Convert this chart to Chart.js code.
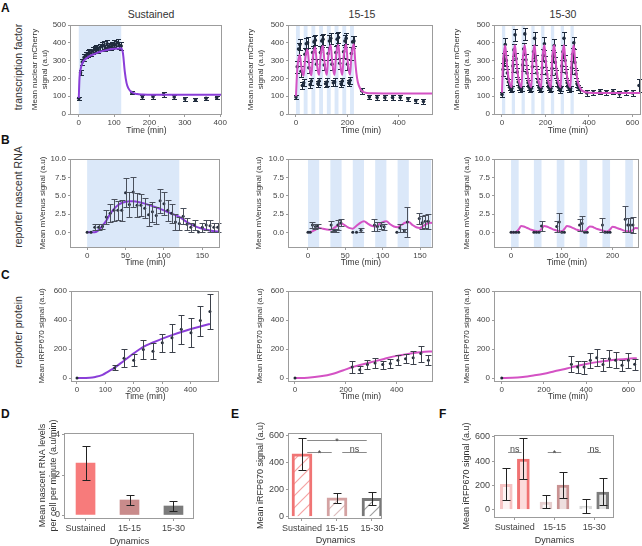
<!DOCTYPE html>
<html><head><meta charset="utf-8">
<script src="https://cdn.jsdelivr.net/npm/chart.js@4/dist/chart.umd.min.js"></script>
<style>
body{margin:0;width:642px;height:546px;position:relative;background:#fff;overflow:hidden;font-family:"Liberation Sans",Arial,sans-serif;color:#333}
canvas{position:absolute}
.lt{position:absolute;font-weight:bold;font-size:12px;color:#111}
.tt{position:absolute;font-size:10.5px;color:#333;transform:translate(-50%,-50%);white-space:nowrap}
.rl{position:absolute;font-size:10.5px;color:#333;transform:translate(-50%,-50%) rotate(-90deg);white-space:nowrap}
</style></head><body>
<div class="lt" style="left:1px;top:1px">A</div>
<div class="lt" style="left:1px;top:133px">B</div>
<div class="lt" style="left:1px;top:268px">C</div>
<div class="lt" style="left:1px;top:407px">D</div>
<div class="lt" style="left:231px;top:407px">E</div>
<div class="lt" style="left:439px;top:407px">F</div>
<div class="tt" style="left:151px;top:14px">Sustained</div>
<div class="tt" style="left:362px;top:14px">15-15</div>
<div class="tt" style="left:563px;top:14px">15-30</div>
<div class="rl" style="left:18px;top:67px">transcription factor</div>
<div class="rl" style="left:18px;top:197px">reporter nascent RNA</div>
<div class="rl" style="left:18px;top:332px">reporter protein</div>
<canvas id="a1"></canvas><canvas id="a2"></canvas><canvas id="a3"></canvas>
<canvas id="b1"></canvas><canvas id="b2"></canvas><canvas id="b3"></canvas>
<canvas id="c1"></canvas><canvas id="c2"></canvas><canvas id="c3"></canvas>
<canvas id="d"></canvas><canvas id="e"></canvas><canvas id="f"></canvas>
<script>
// ---------------- DATA ----------------
// Row A: transcription factor (mean nuclear mCherry)
const a1T = [0,5,10,15,20,25,30,35,40,45,50,55,60,65,70,75,80,85,90,95,100,105,110,115,120,150,180,210,240,270,300,330,360,390];
const a1V = [88,232,292,318,330,338,345,342,355,362,368,360,375,382,386,372,394,380,376,385,396,388,402,386,382,120,96,97,110,95,85,80,88,92];
const a1E = [8,15,18,18,18,20,20,18,20,20,20,18,20,20,22,18,22,20,18,20,22,20,22,20,20,10,10,10,15,10,10,8,8,10];
const a1FitT = [0,2,5,10,20,30,45,60,80,100,120,125,130,135,140,150,165,180,250,405];
const a1FitV = [90,200,250,285,310,325,338,350,360,366,370,340,240,175,145,122,112,110,108,108];
const a1Bands = [[0,120]];

const a2T = [0,5,10,15,20,25,30,35,40,45,50,55,60,65,70,75,80,85,90,95,100,105,110,115,120,125,130,135,140,145,150,155,160,165,170,175,180,185,190,195,200,205,210,215,220,225,255,285,315,345,375,405,435,465,495];
const a2V = [95,265,365,390,240,160,175,335,395,400,260,165,185,345,405,415,280,170,185,345,410,420,275,170,180,340,410,425,280,175,180,345,420,430,285,170,185,350,410,425,280,175,190,340,405,410,130,95,92,92,92,92,85,75,70];
const a2E = [12,35,35,30,30,18,20,35,30,30,30,18,20,35,35,30,30,18,20,35,35,30,30,18,20,35,35,30,30,18,20,35,35,30,30,18,20,35,35,30,30,18,20,35,35,30,15,12,12,12,12,12,12,12,12];
const a2FitT = [0,5,10,15,20,25,30,35,40,45,50,55,60,65,70,75,80,85,90,95,100,105,110,115,120,125,130,135,140,145,150,155,160,165,170,175,180,185,190,195,200,205,210,215,220,225,230,235,240,250,260,275,300,400,535];
const a2FitV = [100,250,310,332,275,232,215,300,345,362,295,240,218,310,358,375,300,243,220,315,365,382,305,245,220,318,368,386,307,246,220,318,370,388,308,246,220,320,370,390,308,247,221,320,372,392,300,225,180,140,125,118,116,115,115];
const a2Bands = [[0,15],[30,45],[60,75],[90,105],[120,135],[150,165],[180,195],[210,225]];

const a3T = [0,5,10,15,20,25,30,35,40,45,50,55,60,65,70,75,80,85,90,95,100,105,110,115,120,125,130,135,140,145,150,155,160,165,170,175,180,185,190,195,200,205,210,215,220,225,230,235,240,245,250,255,260,265,270,275,280,285,290,295,300,305,310,315,320,325,330,335,340,345,350,360,390,420,450,480,510,540,570,600,630];
const a3V = [110,250,310,390,300,230,180,150,140,145,270,360,445,310,235,180,150,140,145,275,365,450,305,230,175,150,138,145,265,350,425,300,230,180,150,140,145,260,330,395,295,225,175,150,140,145,255,325,385,290,225,175,150,135,145,270,350,425,300,230,175,150,140,145,260,335,400,290,225,170,148,135,118,120,125,122,125,112,122,118,160];
const a3E = [15,35,35,35,30,25,18,15,15,15,35,35,35,30,25,18,15,15,15,35,35,35,30,25,18,15,15,15,35,35,35,30,25,18,15,15,15,35,35,35,30,25,18,15,15,15,35,35,35,30,25,18,15,15,15,35,35,35,30,25,18,15,15,15,35,35,35,30,25,18,15,15,15,15,15,15,15,15,15,15,35];
const a3FitT = [0,5,10,15,20,25,30,35,40,45,50,55,60,65,70,75,80,85,90,95,100,105,110,115,120,125,130,135,140,145,150,155,160,165,170,175,180,185,190,195,200,205,210,215,220,225,230,235,240,245,250,255,260,265,270,275,280,285,290,295,300,305,310,315,320,325,330,335,340,345,350,355,360,370,385,400,500,640];
const a3FitV = [120,290,355,385,320,255,205,175,158,150,295,358,386,320,255,205,175,158,150,295,358,386,320,255,205,175,158,150,295,358,386,320,255,205,175,158,150,295,358,386,320,255,205,175,158,150,295,358,386,320,255,205,175,158,150,295,358,386,320,255,205,175,158,150,295,358,386,320,255,205,175,158,145,130,122,120,118,118];
const a3Bands = [[0,15],[45,60],[90,105],[135,150],[180,195],[225,240],[270,285],[315,330]];

// Row B: reporter nascent RNA (mean mVenus)
const b1T = [0,5,10,15,20,25,30,35,40,45,50,55,60,65,70,75,80,85,90,95,100,105,110,115,120,125,130,135,140,145,150,155,160,165,170];
const b1V = [0,0,0.7,0.7,0.8,2.1,2.6,3.0,3.0,3.0,5.4,3.8,5.5,3.7,3.7,3.3,2.4,2.8,2.3,4.3,3.9,3.0,2.6,1.4,1.2,2.2,1.1,0.7,1.0,0.05,0.7,1.0,0.9,0.7,0.7];
const b1E = [0,0,0.4,0.4,0.4,0.9,1.2,1.5,1.3,1.4,2.0,1.7,2.0,1.6,1.5,1.4,1.5,1.4,1.2,1.6,1.6,1.4,1.3,1.1,0.9,1.1,0.8,0.6,0.7,0,0.6,0.7,0.8,0.6,0.6];
const b1FitT = [0,10,15,20,25,30,35,40,45,50,55,60,70,80,90,100,110,120,130,140,150,160,170,175];
const b1FitV = [0,0,0.3,0.9,1.6,2.5,3.2,3.7,4.0,4.15,4.25,4.25,4.05,3.75,3.4,3.0,2.55,2.1,1.4,0.85,0.5,0.25,0.12,0.08];
const b1Bands = [[0,120]];

const b2T = [0,3,6,10,13,31,34,37,40,44,60,65,71,89,93,98,102,119,123,129,133,149,153,157,161];
const b2V = [0,0,1.0,0.8,0.85,1.0,0.1,0.3,1.0,1.3,0,0,0.3,1.0,0.8,0.9,0.75,0,0.6,0.2,1.4,1.9,1.3,1.5,1.5];
const b2E = [0,0,0.4,0.4,0.3,0.5,0.1,0.2,0.7,0.5,0,0,0.3,0.8,0.6,0.5,0.4,0,0.6,0.2,2.0,0.7,0.9,0.9,1.0];
const b2FitT = [0,5,10,15,20,25,30,35,40,45,50,55,60,65,70,75,80,85,90,95,100,105,110,115,120,125,130,135,140,145,150,155,160,165,168];
const b2FitV = [0,0.1,0.35,0.6,0.5,0.4,0.35,0.6,0.95,1.2,0.9,0.6,0.5,0.9,1.3,1.5,1.2,0.9,0.8,1.1,1.4,1.5,1.1,0.8,0.7,1.0,1.3,1.4,1.0,0.7,0.6,0.9,1.2,1.3,1.2];
const b2Bands = [[0,15],[30,45],[60,75],[90,105],[120,135],[150,165]];

const b3T = [0,5,10,15,45,50,55,60,90,95,100,105,135,140,145,150,180,185,190,195,225,230,235,240];
const b3V = [0,0,0,0,0,0,0,0.85,0.8,1.4,0,0,1.0,1.2,0,0,1.0,0,0,0,1.8,1.0,1.0,1.0];
const b3E = [0,0,0,0,0,0,0,0.7,0.8,1.3,0,0,0.8,1.0,0,0,0.9,0,0,0,1.8,1.0,1.0,1.1];
const b3FitT = [0,5,10,15,20,25,30,35,40,45,50,55,60,65,70,75,80,85,90,95,100,105,110,115,120,125,130,135,140,145,150,155,160,165,170,175,180,185,190,195,200,205,210,215,220,225,230,235,240,245,250,255];
const b3FitV = [0,0,0.05,0.4,0.85,0.8,0.65,0.5,0.35,0.25,0.15,0.15,0.45,0.85,0.8,0.65,0.5,0.35,0.25,0.15,0.15,0.45,0.85,0.8,0.65,0.5,0.35,0.25,0.15,0.15,0.45,0.8,0.75,0.6,0.45,0.35,0.25,0.15,0.1,0.4,0.75,0.7,0.55,0.45,0.3,0.2,0.15,0.1,0.35,0.6,0.55,0.5];
const b3Bands = [[0,15],[45,60],[90,105],[135,150],[180,195],[225,240]];

// Row C: reporter protein (mean iRFP670)
const c1T = [0,133,166,200,234,268,301,335,368,402,435,469];
const c1V = [0,70,137,123,197,185,243,278,336,313,396,459];
const c1E = [0,17,62,43,63,55,63,98,100,100,104,120];
const c1FitT = [0,45,65,90,110,133,166,200,234,268,301,335,368,402,435,469];
const c1FitV = [0,2,8,22,45,72,120,170,215,245,272,296,318,338,356,373];

const c2T = [0,225,255,285,315,345,375,405,435,465,495,525];
const c2V = [0,76,58,93,104,93,100,123,134,141,169,123];
const c2E = [0,44,25,30,32,28,32,35,32,45,55,35];
const c2FitT = [0,50,100,150,200,220,260,300,350,400,450,500,540];
const c2FitV = [0,3,12,30,60,73,92,110,132,153,168,180,184];

const c3T = [0,330,360,390,420,450,480,510,540,570,600,630];
const c3V = [0,95,76,76,123,141,93,134,123,88,123,95];
const c3E = [0,55,43,45,50,60,45,60,55,40,50,40];
const c3FitT = [0,50,100,150,200,250,300,330,360,400,450,500,550,600,640];
const c3FitV = [0,2,8,18,30,47,63,74,85,97,110,120,128,134,137];

// Ticks
const aYTicks = [0,100,200,300,400,500];
const a1XTicks = [0,100,200,300,400];
const a2XTicks = [0,200,400];
const a3XTicks = [0,200,400,600];
const bYTicks = [0,2.5,5,7.5,10];
const b1XTicks = [0,50,100,150];
const b2XTicks = [0,50,100,150];
const b3XTicks = [0,100,200];
const cYTicks = [0,200,400,600];
const c1XTicks = [0,100,200,300,400];
const c2XTicks = [0,200,400];
const c3XTicks = [0,200,400,600];

// Bottom row: bars
const dynamics = ['Sustained','15-15','15-30'];
const dVals = [2.6,0.75,0.45];
const dErr = [0.85,0.25,0.27];
const dYTicks = [0,2,4];
const eVals = [465,140,135];
const eErr = [121,37,45];
const eYTicks = [0,200,400,600];
const eSigFrom = [0,0,1], eSigTo = [2,1,2], eSigLevel = [570,476,476], eSigText = ['*','*','ns'];
const fLight = [212,65,32];
const fLightErr = [131,54,55];
const fDark = [420,205,148];
const fDarkErr = [167,107,110];
const fYTicks = [0,200,400,600];
const fSigFrom = [0,1,2], fSigTo = [0,1,2], fSigLevel = [474,474,474], fSigText = ['ns','*','ns'];

// ---------------- RENDER ----------------
const FONT = '"Liberation Sans", Arial, sans-serif';
Chart.defaults.font.family = FONT;
Chart.defaults.color = '#3a3a3a';
const SPINE = '#9c9c9c';
const PADT = 30;

const bandsPlugin = { id:'bands',
  beforeDatasetsDraw(chart, args, opts){
    if(!opts || !opts.list) return;
    const {ctx, chartArea:a, scales:{x}} = chart;
    ctx.save(); ctx.fillStyle = '#dbe8f9';
    opts.list.forEach(([s,e])=>{
      const x1 = Math.max(a.left, x.getPixelForValue(s)), x2 = Math.min(a.right, x.getPixelForValue(e));
      if(x2>x1) ctx.fillRect(x1, a.top, x2-x1, a.bottom-a.top);
    });
    ctx.restore();
  }};
const errPlugin = { id:'errbars',
  afterDatasetDraw(chart, args){
    const ds = chart.data.datasets[args.index];
    if(!ds.errors) return;
    const y = chart.scales.y, ctx = chart.ctx;
    ctx.save(); ctx.strokeStyle = ds.errorColor || '#222'; ctx.lineWidth = 1;
    const cw = (ds.capW||4)/2;
    args.meta.data.forEach((el,i)=>{
      const e = ds.errors[i]; if(!e) return;
      const v = ds.data[i].y;
      const px = Math.round(el.x)+0.5;
      const y1 = Math.round(y.getPixelForValue(v-e))+0.5, y2 = Math.round(y.getPixelForValue(v+e))+0.5;
      ctx.beginPath();
      ctx.moveTo(px,y1); ctx.lineTo(px,y2);
      ctx.moveTo(px-cw,y1); ctx.lineTo(px+cw,y1);
      ctx.moveTo(px-cw,y2); ctx.lineTo(px+cw,y2);
      ctx.stroke();
    });
    ctx.restore();
  }};
const framePlugin = { id:'frame',
  afterDraw(chart){
    const a = chart.chartArea, ctx = chart.ctx;
    ctx.save(); ctx.strokeStyle = SPINE; ctx.lineWidth = 1;
    const l = Math.round(a.left)-0.5, t = Math.round(a.top)+0.5, r = Math.round(a.right)-0.5, b = Math.round(a.bottom)+0.5;
    ctx.strokeRect(l, t, r-l, b-t);
    ctx.restore();
  }};
const sigPlugin = { id:'sig',
  afterDraw(chart, args, opts){
    if(!opts || !opts.from) return;
    const {ctx, scales:{x,y}} = chart;
    ctx.save(); ctx.strokeStyle = '#8a8a8a'; ctx.fillStyle = '#444'; ctx.lineWidth = 1;
    ctx.font = '9px ' + FONT; ctx.textAlign = 'center'; ctx.textBaseline = 'alphabetic';
    opts.from.forEach((a,i)=>{
      const b = opts.to[i];
      const x1 = x.getPixelForValue(a===b ? a-0.17 : a+0.15), x2 = x.getPixelForValue(a===b ? b+0.17 : b-0.15);
      const py = Math.round(y.getPixelForValue(opts.level[i]))+0.5;
      ctx.beginPath(); ctx.moveTo(x1,py); ctx.lineTo(x2,py); ctx.stroke();
      const txt = opts.text[i];
      ctx.fillText(txt, (x1+x2)/2, txt==='*' ? py+3 : py-1);
    });
    ctx.restore();
  }};
Chart.register(bandsPlugin, errPlugin, framePlugin, sigPlugin);

function place(id, box, yW, xH, padT, padR){
  const c = document.getElementById(id);
  const w = (box.R-box.L)+yW+padR, h = (box.B-box.T)+padT+xH;
  c.width = w; c.height = h;
  c.style.left = (box.L-yW)+'px'; c.style.top = (box.T-padT)+'px';
  c.style.width = w+'px'; c.style.height = h+'px';
  return c;
}
const pairs = (xs, ys) => xs.map((x,i)=>({x, y:ys[i]}));

function axisX(o, fs){
  return { type:'linear', min:o.xMin, max:o.xMax, offset:false,
    afterFit: s=>{ s.height = o.xH; },
    afterBuildTicks: s=>{ s.ticks = o.xTicks.map(v=>({value:v})); },
    ticks:{ font:{size:fs}, padding:o.xPad||1, maxRotation:0, autoSkip:false, color:'#444', callback:o.xLabel || (v=>v) },
    grid:{ display:true, drawOnChartArea:false, tickLength:3, color:SPINE, offset:false },
    border:{ display:false },
    title:{ display:true, text:o.xTitle, font:{size:o.xTitleSize||8.5}, padding:0, color:'#333' } };
}
function axisY(o, fs){
  return { type:'linear', min:o.yMin, max:o.yMax,
    afterFit: s=>{ s.width = o.yW; },
    afterBuildTicks: s=>{ s.ticks = o.yTicks.map(v=>({value:v})); },
    ticks:{ font:{size:fs}, padding:2, autoSkip:false, color:'#444', callback: o.yFmt ? (v=>v.toFixed(1)) : (v=>v) },
    grid:{ display:true, drawOnChartArea:false, tickLength:3, color:SPINE },
    border:{ display:false },
    title:{ display:true, text:o.yTitle, font:{size:o.yTitleSize||8}, padding:0, color:'#333' } };
}
function lineChart(id, box, o){
  const c = place(id, box, o.yW, o.xH, PADT, 14);
  const fit = { type:'line', data:pairs(o.fitT,o.fitV), borderColor:o.fitColor, borderWidth:2, pointRadius:0,
                cubicInterpolationMode:'monotone', fill:false, order: o.curveTop ? 0 : 2 };
  const pts = { type:'scatter', data:pairs(o.t,o.v), errors:o.e, errorColor:o.errColor, capW:o.capW,
                pointRadius:o.pr, pointBackgroundColor:o.ptColor, pointBorderWidth:0, showLine:false, order:1 };
  return new Chart(c, { type:'scatter', data:{ datasets:[fit, pts] },
    options:{ responsive:false, animation:false, devicePixelRatio:1, events:[],
      layout:{ padding:{ top:PADT, right:14, left:0, bottom:0 } },
      plugins:{ legend:{display:false}, tooltip:{enabled:false}, bands:{ list:o.bands } },
      scales:{ x:axisX(o,8), y:axisY(o,8) } } });
}

const PURPLE = '#8a3ed8', MAGENTA = '#d452c4';
const timeTitle = 'Time (min)';
const mcherry = ['Mean nuclear mCherry','signal (a.u)'];
const aStyle = { ptColor:'#1f2b3d', errColor:'#1f2b3d', capW:5, pr:1.8, curveTop:true, yMin:0, yMax:500, yTicks:aYTicks, yTitle:mcherry, xTitle:timeTitle, xH:22 };
lineChart('a1', {L:71,T:25,R:222,B:114}, Object.assign({}, aStyle, { t:a1T, v:a1V, e:a1E, fitT:a1FitT, fitV:a1FitV, fitColor:PURPLE, bands:a1Bands, xMin:-22, xMax:405, xTicks:a1XTicks, yW:41 }));
lineChart('a2', {L:289,T:25,R:433,B:114}, Object.assign({}, aStyle, { t:a2T, v:a2V, e:a2E, fitT:a2FitT, fitV:a2FitV, fitColor:MAGENTA, bands:a2Bands, xMin:-27, xMax:532, xTicks:a2XTicks, yW:43 }));
lineChart('a3', {L:495,T:25,R:641,B:114}, Object.assign({}, aStyle, { t:a3T, v:a3V, e:a3E, fitT:a3FitT, fitV:a3FitV, fitColor:MAGENTA, bands:a3Bands, xMin:-32, xMax:639, xTicks:a3XTicks, yW:43 }));

const bStyle = { ptColor:'#262e3c', errColor:'#4a505c', capW:6, pr:1.5, curveTop:false, yMin:-2, yMax:10, yTicks:bYTicks, yFmt:true, yTitle:'Mean mVenus signal (a.u)', xTitle:timeTitle, xH:21 };
lineChart('b1', {L:71,T:159,R:220,B:247}, Object.assign({}, bStyle, { t:b1T, v:b1V, e:b1E, fitT:b1FitT, fitV:b1FitV, fitColor:PURPLE, bands:b1Bands, xMin:-21, xMax:173, xTicks:b1XTicks, yW:33 }));
lineChart('b2', {L:289,T:159,R:433,B:247}, Object.assign({}, bStyle, { t:b2T, v:b2V, e:b2E, fitT:b2FitT, fitV:b2FitV, fitColor:MAGENTA, bands:b2Bands, xMin:-25.4, xMax:167.4, xTicks:b2XTicks, yW:35 }));
lineChart('b3', {L:495,T:159,R:639,B:247}, Object.assign({}, bStyle, { t:b3T, v:b3V, e:b3E, fitT:b3FitT, fitV:b3FitV, fitColor:MAGENTA, bands:b3Bands, xMin:-31.6, xMax:252, xTicks:b3XTicks, yW:33 }));

const cStyle = { ptColor:'#222a36', errColor:'#3c414b', capW:6, pr:1.5, curveTop:false, yMin:-20, yMax:600, yTicks:cYTicks, yTitle:'Mean iRFP670 signal (a.u)', xTitle:timeTitle, xH:21 };
lineChart('c1', {L:72,T:291,R:219,B:381}, Object.assign({}, cStyle, { t:c1T, v:c1V, e:c1E, fitT:c1FitT, fitV:c1FitV, fitColor:PURPLE, bands:null, xMin:-17.6, xMax:501, xTicks:c1XTicks, yW:35 }));
lineChart('c2', {L:289,T:291,R:433,B:381}, Object.assign({}, cStyle, { t:c2T, v:c2V, e:c2E, fitT:c2FitT, fitV:c2FitV, fitColor:MAGENTA, bands:null, xMin:-23.6, xMax:543, xTicks:c2XTicks, yW:34 }));
lineChart('c3', {L:495,T:291,R:641,B:381}, Object.assign({}, cStyle, { t:c3T, v:c3V, e:c3E, fitT:c3FitT, fitV:c3FitV, fitColor:MAGENTA, bands:null, xMin:-32, xMax:660, xTicks:c3XTicks, yW:33 }));

// bars
function hatch(color){
  const p = document.createElement('canvas'); p.width = 12; p.height = 12;
  const g = p.getContext('2d'); g.fillStyle = '#fff'; g.fillRect(0,0,12,12);
  g.strokeStyle = color; g.lineWidth = 1.2; g.beginPath();
  g.moveTo(0,12); g.lineTo(12,0); g.moveTo(-6,6); g.lineTo(6,-6); g.moveTo(6,18); g.lineTo(18,6); g.stroke();
  return g.createPattern(p, 'repeat');
}
function barChart(id, box, o){
  const c = place(id, box, o.yW, o.xH, PADT, 8);
  return new Chart(c, { type:'bar',
    data:{ datasets: o.sets.map(s=>Object.assign({ data:pairs([0,1,2], s.v), errors:s.e, errorColor:'#222', capW:8 }, s.style)) },
    options:{ responsive:false, animation:false, devicePixelRatio:1, events:[],
      layout:{ padding:{ top:PADT, right:8, left:0, bottom:0 } },
      plugins:{ legend:{display:false}, tooltip:{enabled:false}, sig:o.sig || {} },
      scales:{ x:axisX(o,9), y:axisY(o,9) } } });
}
const xLab = v => dynamics[v];
const barBase = { xTicks:[0,1,2], xLabel:xLab, xTitle:'Dynamics', xTitleSize:9, yTitleSize:9, xPad:2 };
barChart('d', {L:65,T:433,R:194,B:518}, Object.assign({}, barBase, { yW:28, xH:29, xMin:-0.467, xMax:2.467, yMin:-0.15, yMax:4.1, yTicks:dYTicks,
  yTitle:['Mean nascent RNA levels','per cell per minute (a.u/min)'],
  sets:[{ v:dVals, e:dErr, style:{ backgroundColor:['#f77b7b','#c98b8b','#7b7b7b'], borderWidth:0, barThickness:19 } }] }));
barChart('e', {L:289,T:433,R:382,B:518}, Object.assign({}, barBase, { yW:34, xH:28, xMin:-0.371, xMax:2.286, yMin:-10, yMax:620, yTicks:eYTicks,
  yTitle:'Mean iRFP670 signal (a.u)',
  sig:{ from:eSigFrom, to:eSigTo, level:eSigLevel, text:eSigText },
  sets:[{ v:eVals, e:eErr, style:{ backgroundColor:[hatch('#f5a3a3'),hatch('#dcbcbc'),hatch('#a0a0a0')], borderColor:['#f07474','#d4a2a2','#787878'], borderWidth:3, barThickness:20 } }] }));
barChart('f', {L:495,T:435,R:614,B:517}, Object.assign({}, barBase, { yW:34, xH:29, xMin:-0.5, xMax:2.5, yMin:-60, yMax:615, yTicks:fYTicks,
  yTitle:'Mean iRFP670 signal (a.u)',
  sig:{ from:fSigFrom, to:fSigTo, level:fSigLevel, text:fSigText },
  sets:[
    { v:fLight, e:fLightErr, style:{ backgroundColor:['rgba(248,205,205,0.25)','rgba(232,212,212,0.25)','rgba(220,220,220,0.25)'], borderColor:['#f6c3c3','#e6cfcf','#d8d8d8'], borderWidth:3, categoryPercentage:0.86, barPercentage:0.74 } },
    { v:fDark, e:fDarkErr, style:{ backgroundColor:['rgba(245,140,140,0.3)','rgba(200,150,150,0.3)','rgba(130,130,130,0.25)'], borderColor:['#f07272','#c99292','#7c7c7c'], borderWidth:3, categoryPercentage:0.86, barPercentage:0.74 } }
  ] }));
</script>
</body></html>
